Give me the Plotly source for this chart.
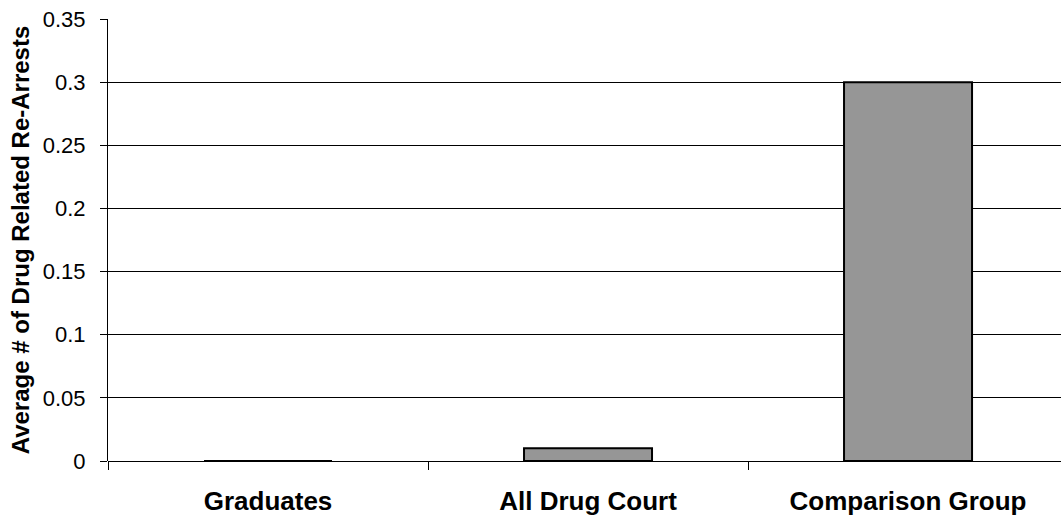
import plotly.graph_objects as go

# Average number of drug related re-arrests per group
groups = ["Graduates", "All Drug Court", "Comparison Group"]
avg_rearrests = [0.0, 0.01, 0.30]

y_tick_values = [0, 0.05, 0.10, 0.15, 0.20, 0.25, 0.30, 0.35]
y_tick_labels = ["0", "0.05", "0.1", "0.15", "0.2", "0.25", "0.3", "0.35"]

FONT = "Arial, 'Liberation Sans', sans-serif"

fig = go.Figure(
    go.Bar(
        x=groups,
        y=avg_rearrests,
        width=0.4,
        marker=dict(color="#969696", line=dict(color="#000000", width=2)),
        hoverinfo="x+y",
    )
)

fig.update_layout(
    width=1061,
    height=519,
    margin=dict(l=108, r=0, t=19, b=58, pad=0),
    paper_bgcolor="#ffffff",
    plot_bgcolor="#ffffff",
    showlegend=False,
    font=dict(family=FONT, color="#000000"),
    bargap=0.6,
)

fig.update_xaxes(
    type="category",
    range=[-0.5, 2.478],
    tickson="boundaries",
    ticks="outside",
    ticklen=8,
    tickwidth=1,
    tickcolor="#000000",
    showline=False,
    showgrid=False,
    zeroline=False,
    tickfont=dict(family=FONT, size=26, color="#000000", weight="bold"),
    ticklabelstandoff=22,
)

fig.update_yaxes(
    range=[0, 0.35],
    tickvals=y_tick_values,
    ticktext=y_tick_labels,
    ticks="outside",
    ticklen=7,
    tickwidth=1,
    tickcolor="#000000",
    showline=True,
    linecolor="#000000",
    linewidth=1,
    showgrid=True,
    gridcolor="#000000",
    gridwidth=1,
    zeroline=True,
    zerolinecolor="#000000",
    zerolinewidth=1,
    tickfont=dict(family=FONT, size=22, color="#000000"),
    ticklabelstandoff=10,
    title=dict(
        text="Average # of Drug Related Re-Arrests",
        font=dict(family=FONT, size=24, color="#000000", weight="bold"),
        standoff=6,
    ),
    automargin=False,
)

fig.write_html("out.html")
